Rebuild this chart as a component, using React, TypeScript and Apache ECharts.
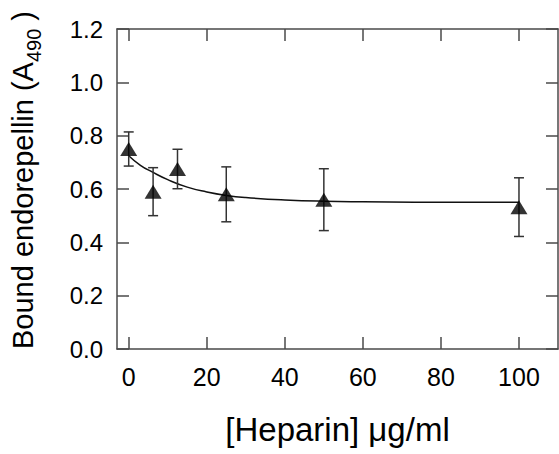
import React, { useEffect, useRef } from "react";
import * as echarts from "echarts";

const concentrations = [0, 6.25, 12.5, 25, 50, 100];
const means = [0.75, 0.59, 0.675, 0.58, 0.56, 0.532];
const errors = [0.064, 0.09, 0.074, 0.103, 0.116, 0.11];

const fitX = [0, 3, 6, 10, 15, 20, 25, 30, 40, 50, 60, 80, 100];
const fitY = [0.725, 0.689, 0.664, 0.635, 0.607, 0.589, 0.576, 0.568, 0.559, 0.554, 0.552, 0.55, 0.55];

const xTicks = [0, 20, 40, 60, 80, 100];

const FONT = "Liberation Sans, Arial, sans-serif";
const AXIS_COLOR = "#4a4a4a";

export default function App() {
  const ref = useRef<HTMLDivElement>(null);
  useEffect(() => {
    document.body.style.margin = "0";
    const chart = echarts.init(ref.current!, null, { renderer: "svg" });
    const axisCommon = {
      axisLine: { show: true, onZero: false, lineStyle: { color: AXIS_COLOR, width: 1.5 } },
      axisTick: { show: true, inside: true, length: 12, lineStyle: { color: AXIS_COLOR, width: 1.5 } },
      splitLine: { show: false },
    };
    chart.setOption({
      animation: false,
      backgroundColor: "#ffffff",
      grid: { left: 115, right: 1, top: 29, bottom: 105, containLabel: false },
      xAxis: [
        {
          type: "value",
          min: -3,
          max: 110,
          position: "bottom",
          ...axisCommon,
          axisTick: { ...axisCommon.axisTick, customValues: xTicks },
          axisLabel: {
            customValues: xTicks,
            color: "#000",
            fontFamily: FONT,
            fontSize: 25,
            margin: 15,
          },
          name: "[Heparin] \u03bcg/ml",
          nameLocation: "middle",
          nameGap: 64,
          nameTextStyle: { color: "#000", fontFamily: FONT, fontSize: 33 },
        },
        {
          type: "value",
          min: -3,
          max: 110,
          position: "top",
          ...axisCommon,
          axisTick: { ...axisCommon.axisTick, customValues: xTicks },
          axisLabel: { show: false },
        },
      ],
      yAxis: [
        {
          type: "value",
          min: 0,
          max: 1.2,
          interval: 0.2,
          position: "left",
          ...axisCommon,
          axisLabel: {
            color: "#000",
            fontFamily: FONT,
            fontSize: 24,
            margin: 14,
            formatter: (v: number) => v.toFixed(1),
          },
          name: "{a|Bound endorepellin (A}{s|490}{a| )}",
          nameLocation: "middle",
          nameGap: 80,
          nameTextStyle: {
            color: "#000",
            fontFamily: FONT,
            fontSize: 29,
            padding: [0, 0, 0, 18],
            rich: {
              a: { color: "#000", fontFamily: FONT, fontSize: 29, verticalAlign: "bottom" },
              s: { color: "#000", fontFamily: FONT, fontSize: 20, verticalAlign: "bottom", padding: [0, 0, -7, 0] },
            },
          },
        },
        {
          type: "value",
          min: 0,
          max: 1.2,
          interval: 0.2,
          position: "right",
          ...axisCommon,
          axisLabel: { show: false },
        },
      ],
      series: [
        {
          type: "line",
          data: fitX.map((x, i) => [x, fitY[i]]),
          smooth: true,
          showSymbol: false,
          symbol: "none",
          lineStyle: { color: "#111", width: 1.5 },
          z: 2,
        },
        {
          type: "custom",
          data: concentrations.map((c, i) => [c, means[i], errors[i]]),
          encode: { x: 0, y: 1 },
          renderItem: (params: any, api: any) => {
            const x = api.value(0);
            const y = api.value(1);
            const e = api.value(2);
            const top = api.coord([x, y + e]);
            const bot = api.coord([x, y - e]);
            const hw = 5;
            const style = { stroke: "#333", lineWidth: 1.5 };
            return {
              type: "group",
              children: [
                { type: "line", shape: { x1: top[0], y1: top[1], x2: bot[0], y2: bot[1] }, style },
                { type: "line", shape: { x1: top[0] - hw, y1: top[1], x2: top[0] + hw, y2: top[1] }, style },
                { type: "line", shape: { x1: bot[0] - hw, y1: bot[1], x2: bot[0] + hw, y2: bot[1] }, style },
              ],
            };
          },
          z: 3,
        },
        {
          type: "scatter",
          data: concentrations.map((c, i) => [c, means[i]]),
          symbol: "triangle",
          symbolSize: [17, 14],
          itemStyle: { color: "#000" },
          z: 4,
        },
      ],
    });
    return () => chart.dispose();
  }, []);
  return <div ref={ref} style={{ width: 559, height: 454 }} />;
}
